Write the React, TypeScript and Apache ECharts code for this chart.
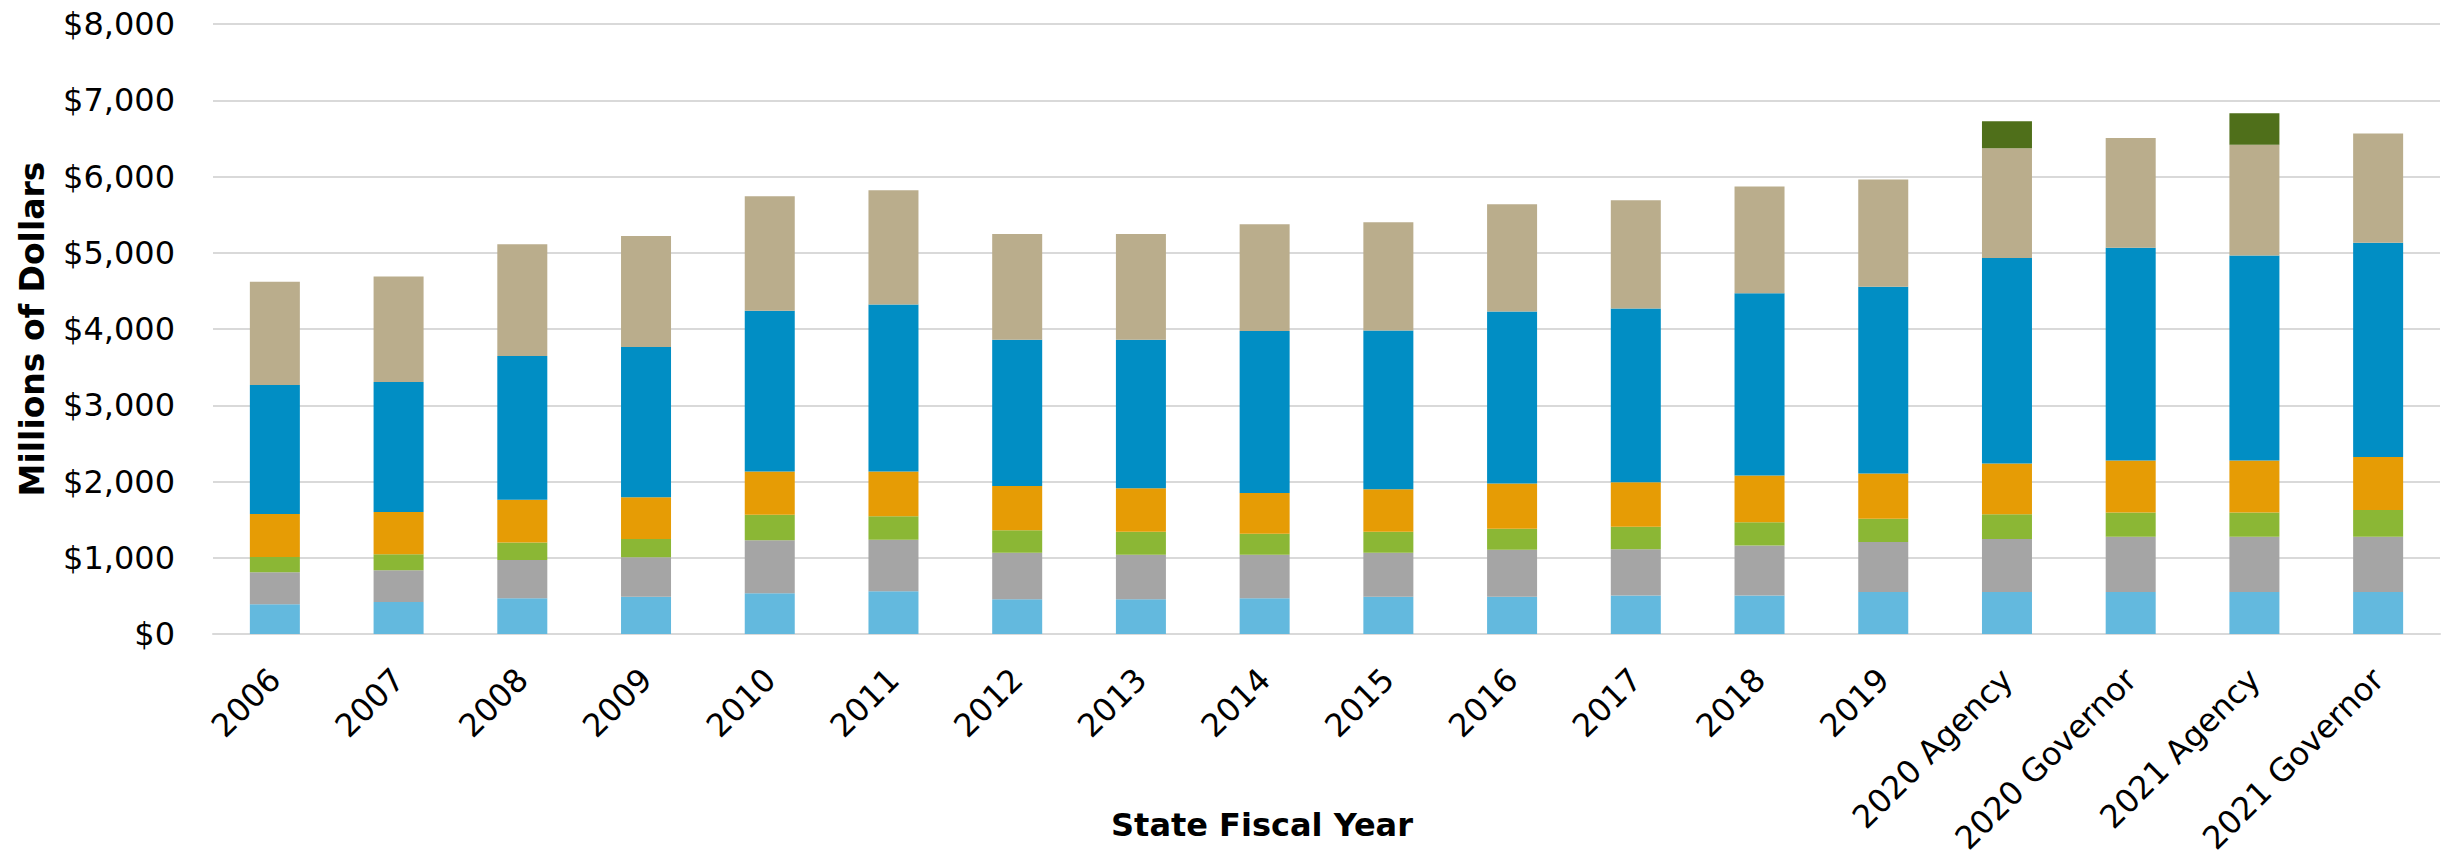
import React, { useEffect, useRef } from "react";
import * as echarts from "echarts";

const categories = [
  "2006", "2007", "2008", "2009", "2010", "2011", "2012", "2013", "2014",
  "2015", "2016", "2017", "2018", "2019", "2020 Agency", "2020 Governor",
  "2021 Agency", "2021 Governor",
];

const lightBlue = [390, 420, 470, 490, 535, 560, 455, 455, 470, 490, 490, 505, 505, 550, 550, 550, 550, 550];
const gray = [420, 415, 500, 515, 695, 675, 610, 585, 570, 575, 615, 605, 655, 655, 695, 725, 725, 725];
const lightGreen = [200, 210, 230, 240, 335, 310, 295, 300, 275, 275, 275, 295, 305, 305, 325, 320, 320, 350];
const orange = [565, 555, 560, 550, 565, 585, 580, 570, 535, 560, 595, 585, 615, 595, 665, 680, 680, 695];
const blue = [1690, 1705, 1885, 1970, 2110, 2190, 1920, 1950, 2125, 2080, 2255, 2280, 2390, 2450, 2695, 2790, 2690, 2810];
const tan = [1355, 1385, 1465, 1455, 1500, 1500, 1385, 1385, 1400, 1420, 1405, 1420, 1400, 1405, 1440, 1440, 1450, 1435];
const darkGreen = [null, null, null, null, null, null, null, null, null, null, null, null, null, null, 355, null, 415, null];

const yTicks = { min: 0, max: 8000, interval: 1000 };

const seriesDefs = [
  { name: "Series 1", data: lightBlue, color: "#63B9DE" },
  { name: "Series 2", data: gray, color: "#A5A5A5" },
  { name: "Series 3", data: lightGreen, color: "#8BB735" },
  { name: "Series 4", data: orange, color: "#E69C05" },
  { name: "Series 5", data: blue, color: "#018EC4" },
  { name: "Series 6", data: tan, color: "#BAAD8C" },
  { name: "Series 7", data: darkGreen, color: "#4F6F1A" },
];

const FONT = "DejaVu Sans";

export default function App() {
  const ref = useRef<HTMLDivElement>(null);
  useEffect(() => {
    if (!ref.current) return;
    const chart = echarts.init(ref.current, null, { renderer: "svg" });
    chart.setOption({
      animation: false,
      backgroundColor: "#ffffff",
      grid: { left: 213, right: 13, top: 24, bottom: 232, containLabel: false },
      xAxis: {
        type: "category",
        data: categories,
        axisLine: { show: true, lineStyle: { color: "#D9D9D9", width: 2 } },
        axisTick: { show: false },
        axisLabel: {
          rotate: 45,
          interval: 0,
          margin: 40,
          fontFamily: FONT,
          fontSize: 32,
          color: "#000",
        },
      },
      yAxis: {
        type: "value",
        min: yTicks.min,
        max: yTicks.max,
        interval: yTicks.interval,
        axisLine: { show: false },
        axisTick: { show: false },
        splitLine: { lineStyle: { color: "#D9D9D9", width: 2 } },
        axisLabel: {
          margin: 38,
          fontFamily: FONT,
          fontSize: 32,
          color: "#000",
          formatter: (v: number) => "$" + v.toLocaleString("en-US"),
        },
      },
      graphic: [
        {
          type: "text",
          x: 1262,
          y: 825,
          style: {
            text: "State Fiscal Year",
            fontFamily: FONT,
            fontSize: 32,
            fontWeight: "bold",
            fill: "#000",
            textAlign: "center",
            textVerticalAlign: "middle",
          },
        },
        {
          type: "text",
          x: 32,
          y: 329,
          rotation: Math.PI / 2,
          style: {
            text: "Millions of Dollars",
            fontFamily: FONT,
            fontSize: 33,
            fontWeight: "bold",
            fill: "#000",
            textAlign: "center",
            textVerticalAlign: "middle",
          },
        },
      ],
      series: seriesDefs.map((s) => ({
        name: s.name,
        type: "bar",
        stack: "total",
        barWidth: 50,
        data: s.data,
        itemStyle: { color: s.color },
      })),
    });
    return () => chart.dispose();
  }, []);
  return (
    <div
      ref={ref}
      style={{ position: "fixed", left: 0, top: 0, width: 2453, height: 866 }}
    />
  );
}
